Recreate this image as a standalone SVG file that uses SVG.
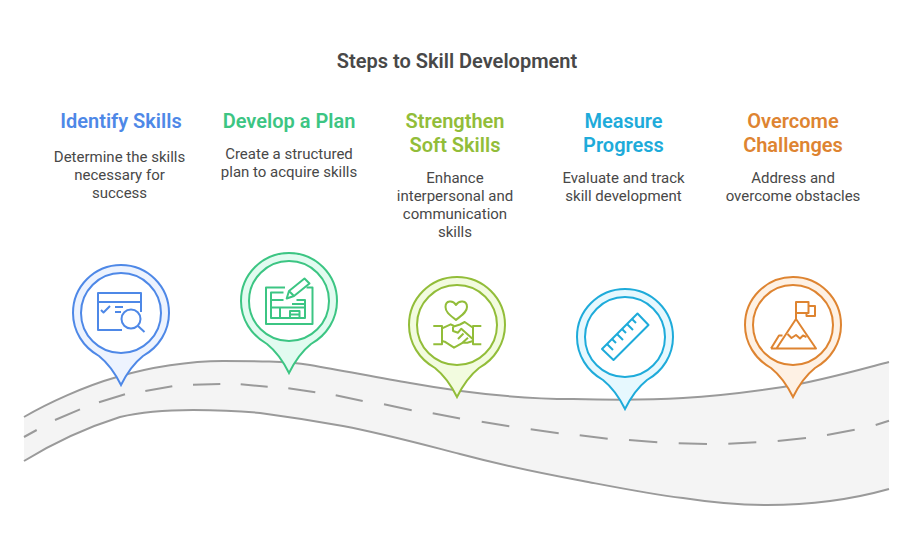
<svg xmlns="http://www.w3.org/2000/svg" width="914" height="555" viewBox="0 0 914 555">
<style>
text{font-family:Roboto,"Liberation Sans",sans-serif;text-anchor:middle}
.t{font-size:20px;font-weight:600;fill:#484848}
.h{font-size:20px;font-weight:600}
.b{font-size:15px;fill:#484848}
.edge{fill:none;stroke:#9a9a9a;stroke-width:2}
.pin{stroke-width:2}
.ring{fill:#fff;stroke-width:2}
.ic{fill:none;stroke-width:2;stroke-linejoin:round}
.blue{stroke:#4e88e7}.green{stroke:#3cc583}.lime{stroke:#92bd39}.cyan{stroke:#1eabda}.orange{stroke:#de8431}
</style>
<defs>
<path id="pinshape" d="M0,72 C-5,62 -12,51 -22,43 C-38,34 -48,18 -48,0 A48,48 0 1 1 48,0 C48,18 38,34 22,43 C12,51 5,62 0,72Z"/>
</defs>
<rect width="914" height="555" fill="#fff"/>
<text class="t" x="457" y="68">Steps to Skill Development</text>
<g id="road">
<path fill="#f4f4f4" d="M24,417 C48,403 85,386 117,377 C150,367 190,361 223,361 C255,361 285,361 310,365 C345,371 380,378 410,383 C460,392 520,399 573,399 C610,400 650,400 683,398 C720,396 750,392 783,387 C820,381 855,371 889,362 L889,489 C850,500 810,505 767,505 C745,505 715,503 683,498 C650,494 620,488 583,481 C545,474 505,466 460,454 C425,445 385,434 343,426 C315,421 290,417 260,413 C240,411 215,410 193,410 C170,410 145,411 120,417 C85,428 55,442 24,461Z"/>
<path class="edge" d="M24,417 C48,403 85,386 117,377 C150,367 190,361 223,361 C255,361 285,361 310,365 C345,371 380,378 410,383 C460,392 520,399 573,399 C610,400 650,400 683,398 C720,396 750,392 783,387 C820,381 855,371 889,362"/>
<path class="edge" d="M24,461 C55,442 85,428 120,417 C145,411 170,410 193,410 C215,410 240,411 260,413 C290,417 315,421 343,426 C385,434 425,445 460,454 C505,466 545,474 583,481 C620,488 650,494 683,498 C715,503 745,505 767,505 C810,505 850,500 889,489"/>
<path class="edge" d="M24,437 L36.700,430 M55,420 L80,409.300 M99,402.300 L125,394.300 M145.300,391 L172.300,386.300 M193,384.700 L220.300,384 M240.700,384.300 L267.700,386.700 M288.300,388.300 L315.300,392.300 M335.700,395.300 L362.700,401 M384,404.300 L411.700,410.300 M432.700,413.300 L460,418.500 M481.700,421.700 L509.300,426.300 M530.700,429.300 L558.700,433.300 M579.700,435.300 L607.700,438.700 M629,440 L657.300,442.300 M678.700,443.300 L707,444 M728.300,443.700 L756.300,442.300 M777.700,441 L806,438 M827,435 L854.700,429.700 M875.700,425 L889,420.700"/>
</g>
<g id="step1">
<text class="h" x="121" y="128" fill="#4e88e7">Identify Skills</text>
<text class="b" x="119.500" y="162">Determine the skills</text>
<text class="b" x="119.500" y="180">necessary for</text>
<text class="b" x="119.500" y="198">success</text>
<use href="#pinshape" x="121" y="313" fill="#edf3fe" class="pin blue"/>
<circle cx="121" cy="313" r="40" class="ring blue"/>
<g class="ic blue">
<path d="M122,330 H98 V293 H141 V312 M98,302 H141 M101,310 L103.500,312.500 L110,306 M115,307 H123 M115,312 H121"/>
<circle cx="131" cy="319" r="9.500"/>
<path d="M138,326 L144.500,332"/>
</g>
</g>
<g id="step2">
<text class="h" x="289" y="128" fill="#3cc583">Develop a Plan</text>
<text class="b" x="289" y="159">Create a structured</text>
<text class="b" x="289" y="177">plan to acquire skills</text>
<use href="#pinshape" x="289" y="301" fill="#e2fbf0" class="pin green"/>
<circle cx="289" cy="301" r="40" class="ring green"/>
<g class="ic green">
<path d="M285,287.500 H266 V324 H312.500 V287.500 H306.500"/>
<path d="M283.500,292.500 H271 V318 H305 V300 H296.500 M271,300 H283.500 M292,304 H305 M271,307.500 H305 M280,307.500 V318 M290,318 V311 H299.500 V318 M290,314.500 H299.500"/>
<path d="M286.700,298.500 L289,291 L304.500,278.500 L309.500,283.500 L294,296Z M289,291 L294,296"/>
</g>
</g>
<g id="step3">
<text class="h" x="455" y="128" fill="#92bd39">Strengthen</text>
<text class="h" x="455" y="152" fill="#92bd39">Soft Skills</text>
<text class="b" x="455" y="183">Enhance</text>
<text class="b" x="455" y="201">interpersonal and</text>
<text class="b" x="455" y="219">communication</text>
<text class="b" x="455" y="237">skills</text>
<use href="#pinshape" x="457" y="325" fill="#f2fbdf" class="pin lime"/>
<circle cx="457" cy="325" r="40" class="ring lime"/>
<g class="ic lime">
<path d="M456,320 C450,315 445.500,312 445.500,307 C445.500,300 453,300 456,305 C459,300 467,300 467,307 C467,312 462,315 456,320Z"/>
<path d="M433.300,326 H442 V344.300 H433.300 M481.300,326 H473 V344.300 H481.300"/>
<path d="M442,328.300 L450.700,324.300 L454,326 M453,326.700 L460,324.500 L464.700,322 L473,327.700 M453,326.700 V331 L458,332.700 L461.300,328.700 L473,339.300 M442,341 L444.700,341.700 L454,347.700 L463,342.700 L467.300,342.700 L473,341 M468,337.700 L461.300,343.700 M463.500,333.500 L458,339"/>
</g>
</g>
<g id="step4">
<text class="h" x="623.500" y="128" fill="#1eabda">Measure</text>
<text class="h" x="623.500" y="152" fill="#1eabda">Progress</text>
<text class="b" x="623.500" y="183">Evaluate and track</text>
<text class="b" x="623.500" y="201">skill development</text>
<use href="#pinshape" x="625" y="337" fill="#e6f8fe" class="pin cyan"/>
<circle cx="625" cy="337" r="40" class="ring cyan"/>
<g class="ic cyan">
<path d="M637.500,313.500 L648.500,325 L613.500,360 L602,349Z"/>
<path d="M632,319 L636,323 M627,324 L633,330 M622,329 L626,333 M617,334 L623,340 M612,339 L616,343 M607,344 L613,350"/>
</g>
</g>
<g id="step5">
<text class="h" x="793" y="128" fill="#de8431">Overcome</text>
<text class="h" x="793" y="152" fill="#de8431">Challenges</text>
<text class="b" x="793" y="183">Address and</text>
<text class="b" x="793" y="201">overcome obstacles</text>
<use href="#pinshape" x="793" y="325" fill="#fef1e4" class="pin orange"/>
<circle cx="793" cy="325" r="40" class="ring orange"/>
<g class="ic orange">
<path d="M796,319 L776.500,348.500 H816 Z M771,348.500 H777 M771,348.500 L779,335.500 H782.500"/>
<path d="M796,319 V302 H808.500 V313 H796 M808.500,306 H815 V316 H806.500 V313"/>
<path d="M787.500,334 L791.500,338 L796,335 L800,338.500 L803,335.500 L806.500,337"/>
</g>
</g>
</svg>
